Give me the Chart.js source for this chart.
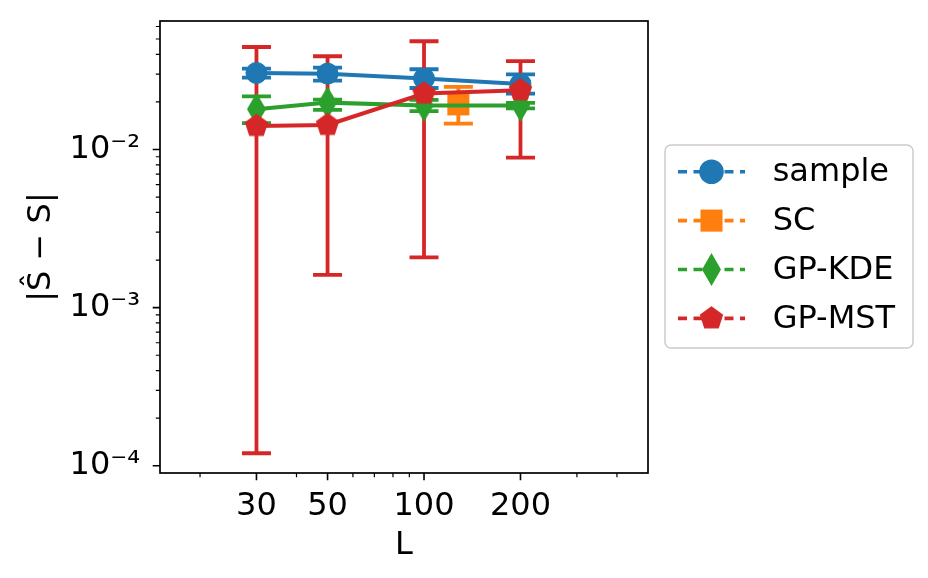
<!DOCTYPE html>
<html>
<head>
<meta charset="utf-8">
<script src="https://cdn.jsdelivr.net/npm/chart.js@4/dist/chart.umd.min.js"></script>
<style>
  html, body { margin: 0; padding: 0; background: #fff; }
  #wrap { width: 928px; height: 578px; }
</style>
</head>
<body>
<div id="wrap"><canvas id="grafico" width="928" height="578"></canvas></div>
<script>
// valores
const L = [30, 50, 100, 200];
const L_SC = [128];

const sampleVal = [0.0305, 0.0302, 0.0281, 0.0260];
const sampleLo  = [0.0285, 0.0273, 0.0245, 0.0226];
const sampleHi  = [0.0325, 0.0330, 0.0322, 0.0299];

const scVal = [0.0193];
const scLo  = [0.0146];
const scHi  = [0.0249];

const kdeVal = [0.0180, 0.0198, 0.0190, 0.0190];
const kdeLo  = [0.0147, 0.0178, 0.0175, 0.0182];
const kdeHi  = [0.0217, 0.0207, 0.0206, 0.0197];

const mstVal = [0.0141, 0.0143, 0.0226, 0.0237];
const mstLo  = [0.00012, 0.00161, 0.00208, 0.0089];
const mstHi  = [0.0445, 0.0389, 0.0484, 0.0362];

// ticks
const xMayores = [30, 50, 100, 200];
const xMenores = [20, 40, 60, 70, 80, 90, 300, 400];
const yMayores = [1e-4, 1e-3, 1e-2];
const yEtiquetas = ["10\u207B\u2074", "10\u207B\u00B3", "10\u207B\u00B2"];
const yMenores = [2e-4, 3e-4, 4e-4, 5e-4, 6e-4, 7e-4, 8e-4, 9e-4,
                  2e-3, 3e-3, 4e-3, 5e-3, 6e-3, 7e-3, 8e-3, 9e-3,
                  2e-2, 3e-2, 4e-2, 5e-2, 6e-2];

const AZUL = "#1f77b4", NARANJA = "#ff7f0e", VERDE = "#2ca02c", ROJO = "#d62728";

Chart.defaults.font.family = "'DejaVu Sans', sans-serif";
Chart.defaults.color = "#000";

// marcadores propios
function crearDiamante(ancho, alto, color) {
  const c = document.createElement("canvas");
  c.width = ancho; c.height = alto;
  const ctx = c.getContext("2d");
  ctx.fillStyle = color;
  ctx.beginPath();
  ctx.moveTo(ancho / 2, 0);
  ctx.lineTo(ancho, alto / 2);
  ctx.lineTo(ancho / 2, alto);
  ctx.lineTo(0, alto / 2);
  ctx.closePath();
  ctx.fill();
  return c;
}

function crearPentagono(r, color) {
  const lado = Math.ceil(2 * r) + 2;
  const c = document.createElement("canvas");
  c.width = lado; c.height = lado;
  const ctx = c.getContext("2d");
  ctx.fillStyle = color;
  ctx.beginPath();
  for (let i = 0; i < 5; i++) {
    const a = -Math.PI / 2 + i * 2 * Math.PI / 5;
    const px = lado / 2 + r * Math.cos(a);
    const py = lado / 2 + r * Math.sin(a);
    if (i === 0) ctx.moveTo(px, py); else ctx.lineTo(px, py);
  }
  ctx.closePath();
  ctx.fill();
  return c;
}

function puntos(xs, ys) {
  return xs.map((x, i) => ({ x: x, y: ys[i] }));
}

const datasets = [
  { label: "sample", data: puntos(L, sampleVal), lo: sampleLo, hi: sampleHi, xs: L,
    borderColor: AZUL, backgroundColor: AZUL, pointStyle: "circle", pointRadius: 10.5,
    pointBorderWidth: 1, order: 4 },
  { label: "SC", data: puntos(L_SC, scVal), lo: scLo, hi: scHi, xs: L_SC,
    borderColor: NARANJA, backgroundColor: NARANJA, pointStyle: "rect", pointRadius: 15.6,
    pointBorderWidth: 0, order: 3 },
  { label: "GP-KDE", data: puntos(L, kdeVal), lo: kdeLo, hi: kdeHi, xs: L,
    borderColor: VERDE, backgroundColor: VERDE, pointStyle: crearDiamante(19, 33, VERDE),
    pointRadius: 12, order: 2 },
  { label: "GP-MST", data: puntos(L, mstVal), lo: mstLo, hi: mstHi, xs: L,
    borderColor: ROJO, backgroundColor: ROJO, pointStyle: crearPentagono(12.3, ROJO),
    pointRadius: 12, order: 1 }
];
datasets.forEach(d => {
  d.borderWidth = 4;
  d.pointBorderColor = d.borderColor;
  d.pointBackgroundColor = d.backgroundColor;
  d.fill = false;
  d.tension = 0;
});

// barras de error (debajo de las lineas)
const barrasError = {
  id: "barrasError",
  beforeDatasetsDraw(chart) {
    const ctx = chart.ctx;
    const sx = chart.scales.x, sy = chart.scales.y;
    ctx.save();
    chart.data.datasets.forEach(d => {
      ctx.strokeStyle = d.borderColor;
      ctx.lineWidth = 3.8;
      d.xs.forEach((x, i) => {
        const px = sx.getPixelForValue(x);
        const y1 = sy.getPixelForValue(d.lo[i]);
        const y2 = sy.getPixelForValue(d.hi[i]);
        ctx.beginPath();
        ctx.moveTo(px, y1); ctx.lineTo(px, y2);
        ctx.moveTo(px - 14.5, y1); ctx.lineTo(px + 14.5, y1);
        ctx.moveTo(px - 14.5, y2); ctx.lineTo(px + 14.5, y2);
        ctx.stroke();
      });
    });
    ctx.restore();
  }
};

// marco y marcas de ejes
const marco = {
  id: "marco",
  afterDatasetsDraw(chart) {
    const ctx = chart.ctx;
    const a = chart.chartArea;
    const sx = chart.scales.x, sy = chart.scales.y;
    ctx.save();
    ctx.strokeStyle = "#000";
    ctx.lineWidth = 1.2;
    ctx.beginPath();
    xMenores.forEach(v => {
      const p = sx.getPixelForValue(v);
      ctx.moveTo(p, a.bottom); ctx.lineTo(p, a.bottom + 4.2);
    });
    yMenores.forEach(v => {
      const p = sy.getPixelForValue(v);
      ctx.moveTo(a.left, p); ctx.lineTo(a.left - 4.2, p);
    });
    ctx.stroke();
    ctx.lineWidth = 1.6;
    ctx.beginPath();
    xMayores.forEach(v => {
      const p = sx.getPixelForValue(v);
      ctx.moveTo(p, a.bottom); ctx.lineTo(p, a.bottom + 7.3);
    });
    yMayores.forEach(v => {
      const p = sy.getPixelForValue(v);
      ctx.moveTo(a.left, p); ctx.lineTo(a.left - 7.3, p);
    });
    ctx.stroke();
    ctx.lineWidth = 1.7;
    ctx.strokeRect(a.left, a.top, a.right - a.left, a.bottom - a.top);
    ctx.restore();
  }
};

// leyenda a la derecha
const leyenda = {
  id: "leyenda",
  afterDraw(chart) {
    const ctx = chart.ctx;
    ctx.save();
    ctx.fillStyle = "rgba(255,255,255,0.8)";
    ctx.strokeStyle = "#cccccc";
    ctx.lineWidth = 1.5;
    ctx.beginPath();
    ctx.roundRect(665, 145, 248, 203, 6);
    ctx.fill();
    ctx.stroke();
    chart.data.datasets.forEach((d, i) => {
      const y = 171.7 + i * 48.9;
      ctx.strokeStyle = d.borderColor;
      ctx.lineWidth = 3.6;
      ctx.setLineDash([9, 6.5]);
      ctx.beginPath();
      ctx.moveTo(678, y); ctx.lineTo(745, y);
      ctx.stroke();
      ctx.setLineDash([]);
      ctx.fillStyle = d.backgroundColor;
      ctx.strokeStyle = d.borderColor;
      Chart.helpers.drawPoint(ctx, {
        pointStyle: d.pointStyle, rotation: 0, radius: d.pointRadius,
        borderWidth: d.pointBorderWidth || 0
      }, 711.5, y);
      ctx.fillStyle = "#000";
      ctx.font = "32px 'DejaVu Sans'";
      ctx.textBaseline = "middle";
      ctx.textAlign = "left";
      ctx.fillText(d.label, 772.7, y + 1);
    });
    ctx.restore();
  }
};

new Chart(document.getElementById("grafico"), {
  type: "line",
  data: { datasets: datasets },
  plugins: [barrasError, marco, leyenda],
  options: {
    responsive: false,
    animation: false,
    devicePixelRatio: 1,
    layout: { autoPadding: false, padding: { left: 0, top: 21, right: 280, bottom: 0 } },
    plugins: { legend: { display: false }, tooltip: { enabled: false } },
    scales: {
      x: {
        type: "logarithmic",
        min: 15, max: 500,
        grid: { display: false, drawTicks: false },
        border: { display: false },
        afterFit(s) { s.height = 105; s.paddingLeft = 0; s.paddingRight = 0; },
        afterBuildTicks(s) { s.ticks = xMayores.map(v => ({ value: v })); },
        ticks: {
          autoSkip: false, maxRotation: 0, padding: 14,
          font: { size: 32 },
          callback: v => String(v)
        },
        title: { display: true, text: "L", font: { size: 32, lineHeight: 1.2 }, padding: { top: 0, bottom: 13 } }
      },
      y: {
        type: "logarithmic",
        min: 9e-5, max: 0.065,
        grid: { display: false, drawTicks: false },
        border: { display: false },
        afterFit(s) { s.width = 160; s.paddingTop = 0; s.paddingBottom = 0; },
        afterBuildTicks(s) { s.ticks = yMayores.map(v => ({ value: v })); },
        ticks: {
          autoSkip: false, padding: 20,
          font: { size: 32 },
          callback: v => yEtiquetas[yMayores.indexOf(v)]
        },
        title: { display: true, text: "|\u015C \u2212 S|", font: { size: 32, lineHeight: 1.2 }, padding: { top: 22, bottom: 0 } }
      }
    }
  }
});
</script>
</body>
</html>
